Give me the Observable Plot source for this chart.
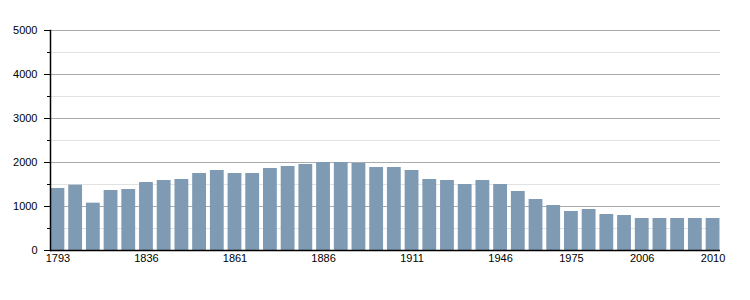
<!DOCTYPE html>
<html>
<head>
<meta charset="utf-8">
<script src="https://cdn.jsdelivr.net/npm/d3@7"></script>
<script src="https://cdn.jsdelivr.net/npm/@observablehq/plot@0.6"></script>
<style>
  html, body { margin: 0; padding: 0; background: #fff; }
</style>
</head>
<body>
<div id="chart"></div>
<script>
const years = ["1793","1800","1806","1821","1831","1836","1841","1846","1851","1856",
  "1861","1866","1872","1876","1881","1886","1891","1896","1901","1906",
  "1911","1921","1926","1931","1936","1946","1954","1962","1968","1975",
  "1982","1990","1999","2006","2007","2008","2009","2010"];
const population = [1410,1485,1076,1364,1386,1545,1591,1614,1750,1818,
  1750,1750,1864,1909,1955,2000,2000,1977,1886,1886,
  1818,1614,1591,1500,1591,1500,1341,1159,1023,886,
  932,818,795,727,727,727,727,727];
const labeledYears = ["1793","1836","1861","1886","1911","1946","1975","2006","2010"];
const majorTicks = [0,1000,2000,3000,4000,5000];
const minorTicks = [500,1500,2500,3500,4500];

const data = years.map((y, i) => ({year: y, pop: population[i]}));

const chart = Plot.plot({
  width: 750,
  height: 300,
  marginLeft: 50,
  marginRight: 30,
  marginTop: 30,
  marginBottom: 50,
  style: {fontFamily: "'Liberation Sans', Arial, sans-serif", fontSize: "11px", color: "#000", background: "#fff"},
  x: {domain: years, paddingInner: 0.22, paddingOuter: 0.03, round: false, axis: null, label: null},
  y: {domain: [0, 5000], axis: null, label: null},
  marks: [
    Plot.ruleY(minorTicks, {stroke: "#e2e2e2", strokeWidth: 1}),
    Plot.ruleY(majorTicks.slice(1), {stroke: "#aaaaaa", strokeWidth: 1}),
    Plot.barY(data, {x: "year", y: "pop", fill: "#7f9ab3"}),
    Plot.ruleY([0], {stroke: "#000", strokeWidth: 1.5}),
    Plot.frame({anchor: "left", stroke: "#000", strokeWidth: 1.5}),
    Plot.axisY({ticks: majorTicks, tickSize: 6, tickPadding: 7, stroke: "#000", fill: "#000", label: null, tickFormat: d => String(d)}),
    Plot.axisY({ticks: minorTicks, tickSize: 3, tickFormat: () => "", label: null, stroke: "#000"}),
    Plot.axisX({ticks: labeledYears, tickSize: 0, tickPadding: 4, label: null, fill: "#000"})
  ]
});
document.getElementById("chart").append(chart);
</script>
</body>
</html>
